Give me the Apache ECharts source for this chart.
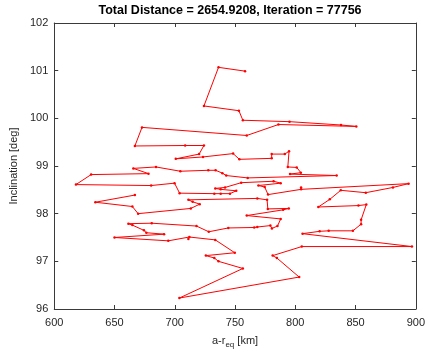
<!DOCTYPE html>
<html><head><meta charset="utf-8">
<script src="https://cdn.jsdelivr.net/npm/echarts@6/dist/echarts.min.js"></script>
<style>html,body{margin:0;padding:0;background:#fff}#c{width:428px;height:354px}</style>
</head><body><div id="c"></div>
<script>
var titleText = 'Total Distance = 2654.9208, Iteration = 77756';
var xTicks = [600, 650, 700, 750, 800, 850, 900];
var yTicks = [96, 97, 98, 99, 100, 101, 102];
// path order, a-r_eq [km]
var pathX = [758.3,736.3,724.2,753.2,756.5,795.2,837.9,850.6,786.0,759.7,672.8,666.9,708.6,724.2,720.2,700.8,723.4,748.4,753.6,780.4,780.4,791.3,794.8,793.8,801.2,804.6,795.6,834.3,760.5,742.7,739.5,733.9,727.8,704.6,684.4,665.6,678.2,630.6,618.0,680.4,699.8,704.0,732.8,738.1,745.8,751.0,738.1,733.6,741.7,755.1,782.0,787.9,769.4,774.6,777.4,804.8,804.8,894.0,881.0,858.5,837.7,828.6,819.1,852.4,858.9,854.6,854.6,847.8,827.7,820.2,806.0,896.8,805.4,781.2,784.7,803.2,703.8,756.5,736.3,732.8,725.8,749.8,733.6,712.1,711.3,694.6,650.0,691.1,676.4,674.4,664.8,661.5,680.9,718.0,728.2,744.4,765.9,768.5,779.3,780.6,785.2,787.9,759.7,789.9,794.6,777.2,776.6,768.5,711.3,714.8,720.7,713.3,669.6,664.8,634.1,666.9];
// inclination [deg]
var pathY = [100.99,101.07,100.26,100.16,99.96,99.93,99.86,99.83,99.87,99.64,99.81,99.42,99.43,99.43,99.25,99.15,99.19,99.26,99.14,99.16,99.25,99.25,99.31,98.98,98.97,98.86,98.83,98.80,98.75,98.80,98.85,98.91,98.91,98.89,98.98,98.95,98.84,98.82,98.61,98.59,98.64,98.43,98.42,98.42,98.42,98.48,98.51,98.53,98.55,98.65,98.68,98.64,98.59,98.56,98.40,98.51,98.55,98.63,98.55,98.44,98.49,98.30,98.14,98.17,98.19,97.87,97.78,97.64,97.64,97.63,97.58,97.31,97.31,97.12,97.07,96.67,96.23,96.85,97.00,97.07,97.12,97.18,97.45,97.51,97.47,97.43,97.50,97.57,97.60,97.65,97.76,97.79,97.80,97.74,97.62,97.70,97.71,97.72,97.75,97.69,97.74,97.89,97.96,98.08,98.11,98.10,98.29,98.32,98.29,98.25,98.20,98.11,98.00,98.15,98.24,98.39];

var pts = pathX.map(function(x, i){ return [x, pathY[i]]; });
var axisColor = '#3a3a3a';
var font = 'Liberation Sans, Arial, Helvetica, sans-serif';
var chart = echarts.init(document.getElementById('c'), null, {renderer:'canvas'});
function xAx(main){
  return {
    type:'value', min:xTicks[0], max:xTicks[xTicks.length-1], interval:50,
    position: main ? 'bottom' : 'top',
    axisLine:{show:true, onZero:false, lineStyle:{color:axisColor, width:1}},
    axisTick:{show:true, inside:true, length:4, lineStyle:{color:axisColor}},
    axisLabel:{show:main, color:'#262626', fontSize:11, fontFamily:font, margin:8},
    splitLine:{show:false},
    name: main ? '{a|a-r}{s|eq}{a| [km]}' : '',
    nameLocation:'middle', nameGap:24,
    nameTextStyle: {rich:{
      a:{fontSize:11, fontFamily:font, color:'#262626'},
      s:{fontSize:8, fontFamily:font, color:'#262626', padding:[8,0,0,0]}
    }}
  };
}
function yAx(main){
  return {
    type:'value', min:yTicks[0], max:yTicks[yTicks.length-1], interval:1,
    position: main ? 'left' : 'right',
    axisLine:{show:true, onZero:false, lineStyle:{color:axisColor, width:1}},
    axisTick:{show:true, inside:true, length:4, lineStyle:{color:axisColor}},
    axisLabel:{show:main, color:'#262626', fontSize:11, fontFamily:font, margin:6},
    splitLine:{show:false},
    name: main ? 'Inclination [deg]' : '',
    nameLocation:'middle', nameGap:31, nameRotate:90,
    nameTextStyle:{fontSize:11, fontFamily:font, color:'#262626'}
  };
}
chart.setOption({
  animation:false,
  backgroundColor:'#fff',
  grid:{left:47, right:9, top:23, bottom:41, containLabel:false},
  xAxis:[xAx(true), xAx(false)],
  yAxis:[yAx(true), yAx(false)],
  graphic:[{type:'text', x:230, y:4,
    style:{text:titleText, font:'bold 12.5px ' + font, fill:'#000', align:'center', verticalAlign:'top'}}],
  series:[{
    type:'line', xAxisIndex:0, yAxisIndex:0, data:pts,
    symbol:'circle', symbolSize:2.5, showSymbol:true,
    lineStyle:{color:'#ff0000', width:1},
    itemStyle:{color:'#ff0000'},
    clip:false
  }]
});
</script></body></html>
